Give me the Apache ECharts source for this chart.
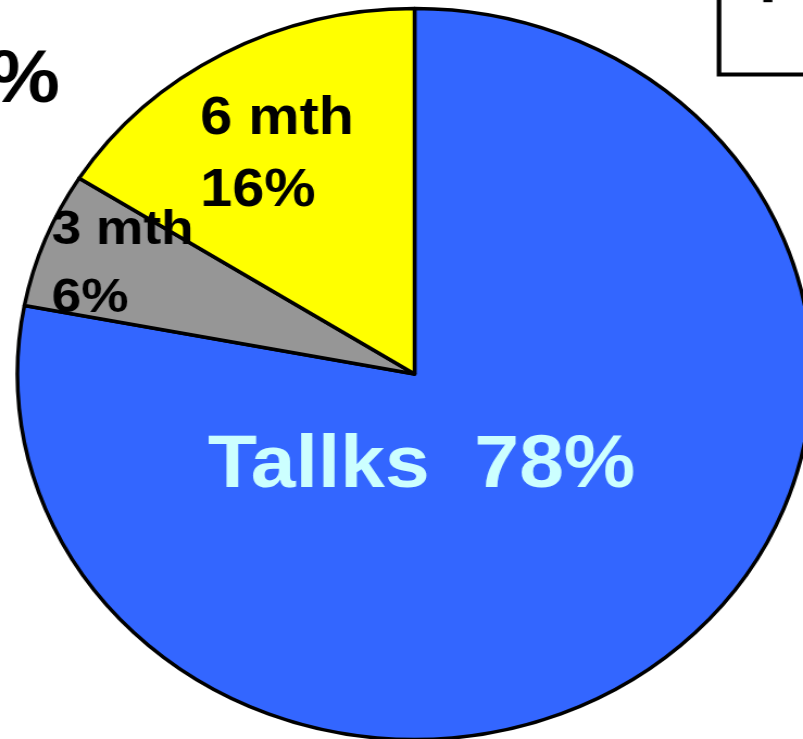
<!DOCTYPE html>
<html><head><meta charset="utf-8">
<script src="https://cdn.jsdelivr.net/npm/echarts@6/dist/echarts.min.js"></script>
<style>
html,body{margin:0;padding:0;background:#fff;overflow:hidden;width:803px;height:739px;}
#c{width:739px;height:739px;transform:scaleX(1.0866);transform-origin:0 0;}
</style></head><body><div id="c"></div>
<script>
// Data
const categories = ['Tallks', '3 mth', '6 mth'];
const values = [78, 6, 16];

// Styles (kept separate from data)
const sliceColors = ['#3366FF', '#969696', '#FFFF00'];
const FONT = 'Liberation Sans, Arial, Helvetica, sans-serif';

const labelStyles = [
  { formatter: '{b}  {c}%', color: '#CCFFFF', fontSize: 74, offset: [-112, -51] },
  { formatter: '{t|{b}}\n{t|{c}%}', offset: [-96, -41],
    rich: { t: { align: 'left', fontSize: 49, lineHeight: 68, fontWeight: 'bold', color: '#000', fontFamily: FONT } } },
  { formatter: '{t|{b}}\n{t|{c}%}', offset: [-37, -56],
    rich: { t: { align: 'left', fontSize: 53, lineHeight: 72, fontWeight: 'bold', color: '#000', fontFamily: FONT } } }
];

const chart = echarts.init(document.getElementById('c'), null, { renderer: 'canvas' });

chart.setOption({
  animation: false,
  backgroundColor: '#fff',
  graphic: [
    { type: 'text', x: 55, y: 82, silent: true,
      style: { text: '%', align: 'right', verticalAlign: 'middle', fontSize: 74, fontWeight: 'bold', fill: '#000', fontFamily: FONT } },
    { type: 'rect', silent: true,
      shape: { x: 661.7, y: -20, width: 200, height: 94.5 },
      style: { fill: '#fff', stroke: '#000', lineWidth: 4.2 } },
    { type: 'rect', silent: true,
      shape: { x: 702.5, y: 0, width: 8.3, height: 2.2 },
      style: { fill: '#000' } }
  ],
  series: [{
    type: 'pie',
    silent: true,
    center: [381.5, 374],
    radius: [0, 365.5],
    startAngle: 90,
    clockwise: true,
    avoidLabelOverlap: false,
    itemStyle: { borderColor: '#000', borderWidth: 3.5 },
    label: { show: true, position: 'inside', fontFamily: FONT, fontWeight: 'bold' },
    labelLine: { show: false },
    emphasis: { disabled: true },
    data: categories.map((name, i) => ({
      name: name,
      value: values[i],
      itemStyle: { color: sliceColors[i] },
      label: Object.assign({ show: true, position: 'inside', fontFamily: FONT, fontWeight: 'bold' }, labelStyles[i])
    }))
  }]
});
</script></body></html>
